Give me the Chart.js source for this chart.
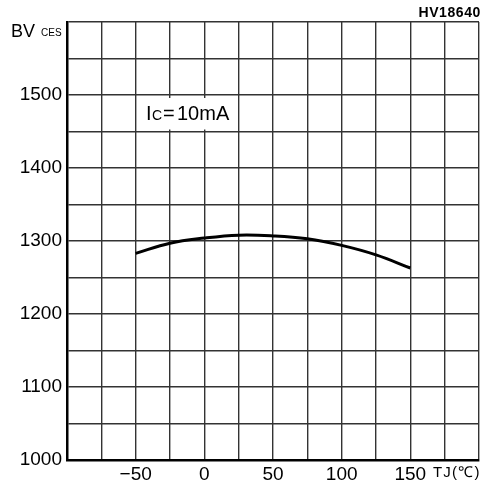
<!DOCTYPE html>
<html>
<head>
<meta charset="utf-8">
<script src="https://cdn.jsdelivr.net/npm/chart.js@4"></script>
<style>
  html, body { margin: 0; padding: 0; background: #fff; }
</style>
</head>
<body>
<canvas id="bvChart" width="494" height="485"></canvas>
<script>
// BVces vs junction temperature (Ic = 10mA)
const tempC = [-50, -25, 0, 25, 50, 75, 100, 125, 150];
const bvCes = [1283, 1297, 1304, 1308, 1307, 1303, 1294, 1281, 1263];

const xLabels = [-50, 0, 50, 100, 150];
const yLabels = [1000, 1100, 1200, 1300, 1400, 1500];

const FONT = '"Liberation Sans", Arial, sans-serif';

// white box behind the Ic label, drawn over the grid
const labelBox = {
  id: 'labelBox',
  beforeDatasetsDraw(chart) {
    const ctx = chart.ctx;
    const x = chart.scales.x, y = chart.scales.y;
    const left = x.getPixelForValue(-50) + 1.5;
    const right = x.getPixelForValue(25) - 1.5;
    const top = y.getPixelForValue(1500) + 3;
    const bottom = y.getPixelForValue(1450) - 2;
    ctx.save();
    ctx.fillStyle = '#fff';
    ctx.fillRect(left, top, right - left, bottom - top);
    ctx.restore();
  }
};

// extra captions drawn on the canvas
const captions = {
  id: 'captions',
  afterDraw(chart) {
    const ctx = chart.ctx;
    const area = chart.chartArea;
    ctx.save();
    ctx.fillStyle = '#000';
    ctx.textBaseline = 'alphabetic';

    // HV18640 in the top right corner
    ctx.font = 'bold 14px ' + FONT;
    ctx.textAlign = 'right';
    ctx.letterSpacing = '0.6px';
    ctx.fillText('HV18640', area.right + 2, 17);
    ctx.letterSpacing = '0px';

    // BV ces
    ctx.textAlign = 'left';
    ctx.font = '18px ' + FONT;
    ctx.fillText('BV', 11, 37);
    ctx.font = '10px ' + FONT;
    ctx.fillText('CES', 41, 36);

    // Ic=10mA
    ctx.font = '20px ' + FONT;
    ctx.fillText('I', 146, 120);
    ctx.font = '14px ' + FONT;
    ctx.fillText('C', 152, 120);
    ctx.font = '20px ' + FONT;
    ctx.fillText('=', 163, 120);
    ctx.fillText('10mA', 177, 120);

    // Tj(°C)
    ctx.font = '15px ' + FONT;
    ctx.letterSpacing = '1.2px';
    ctx.fillText('TJ(℃)', 433, 477);
    ctx.restore();
  }
};

new Chart(document.getElementById('bvChart'), {
  type: 'scatter',
  data: {
    datasets: [{
      data: tempC.map((t, i) => ({ x: t, y: bvCes[i] })),
      showLine: true,
      borderColor: '#000',
      borderWidth: 3,
      pointRadius: 0,
      tension: 0.4,
      fill: false
    }]
  },
  options: {
    responsive: false,
    animation: false,
    layout: { padding: { top: 22, right: 15, left: 0, bottom: 0 } },
    plugins: { legend: { display: false }, tooltip: { enabled: false } },
    scales: {
      x: {
        type: 'linear',
        min: -100,
        max: 200,
        afterBuildTicks: s => {
          s.ticks = [];
          for (let v = -100; v <= 200; v += 25) s.ticks.push({ value: v });
        },
        afterFit: s => { s.height = 25; },
        grid: { color: '#333', lineWidth: 1.4, drawTicks: false },
        border: { color: '#000', width: 2.5 },
        ticks: {
          autoSkip: false,
          maxRotation: 0,
          padding: 3,
          color: '#000',
          font: { family: FONT, size: 19 },
          callback: v => xLabels.includes(v) ? (v < 0 ? '\u2212' + Math.abs(v) : String(v)) : ''
        }
      },
      y: {
        type: 'linear',
        min: 1000,
        max: 1600,
        afterBuildTicks: s => {
          s.ticks = [];
          for (let v = 1000; v <= 1600; v += 50) s.ticks.push({ value: v });
        },
        afterFit: s => { s.width = 67; },
        grid: { color: '#333', lineWidth: 1.4, drawTicks: false },
        border: { color: '#000', width: 2.5 },
        ticks: {
          autoSkip: false,
          padding: 5,
          color: '#000',
          font: { family: FONT, size: 19 },
          callback: v => yLabels.includes(v) ? String(v) : ''
        }
      }
    }
  },
  plugins: [labelBox, captions]
});
</script>
</body>
</html>
